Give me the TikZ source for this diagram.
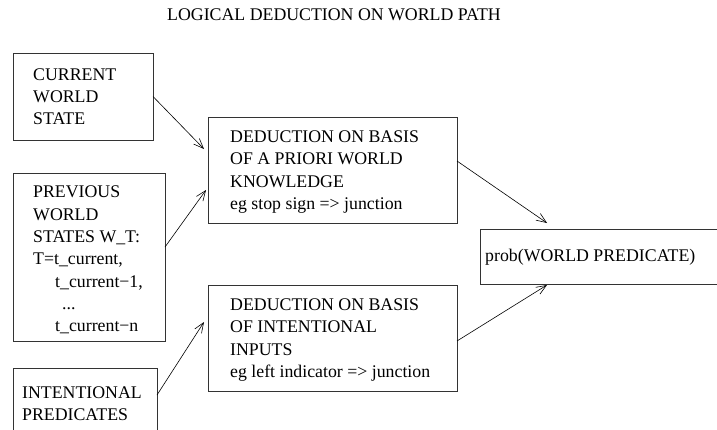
\documentclass[tikz,border=0pt]{standalone}
\usepackage{fontspec}
\setmainfont{Liberation Serif}
\usetikzlibrary{arrows.meta,calc}
\begin{document}
\begin{tikzpicture}[x=1pt,y=-1pt,
  box/.style={draw=black!80, line width=0.8pt, anchor=north west, inner sep=0pt, outer sep=0pt},
  txt/.style={anchor=west, align=left, inner sep=0pt, font=\fontsize{17.8}{22.3}\selectfont},
  arr/.style={draw=black, line width=0.6pt, -{Straight Barb[length=10pt,width=8pt]}}]
\useasboundingbox (0,0) rectangle (717,429);
\clip (0,0) rectangle (717,429);
\node[inner sep=0pt, font=\fontsize{17.8}{22.3}\selectfont] (title) at (334,15) {LOGICAL DEDUCTION ON WORLD PATH};
% boxes
\node[box, minimum width=140pt, minimum height=87pt] (b1) at (13,53) {};
\node[box, minimum width=152pt, minimum height=168pt] (b2) at (13,173) {};
\node[box, minimum width=144pt, minimum height=72pt] (b3) at (13,368) {};
\node[box, minimum width=249pt, minimum height=106pt] (d1) at (208,117) {};
\node[box, minimum width=249pt, minimum height=106pt] (d2) at (208,285) {};
\node[box, minimum width=250pt, minimum height=55pt] (p) at (480,229) {};
% texts
\node[txt] (t1) at ([xshift=20pt]b1.west) {CURRENT\\WORLD\\STATE};
\node[txt] (t2) at ([xshift=20pt,yshift=-3pt]b2.west) {PREVIOUS\\WORLD\\STATES W\_T:\\T=t\_current,\\\hspace*{22pt}t\_current−1,\\\hspace*{29pt}...\\\hspace*{22pt}t\_current−n};
\node[txt] (t3) at ([xshift=9pt]b3.west) {INTENTIONAL\\PREDICATES};
\node[txt] (td1) at ([xshift=22pt,yshift=-2pt]d1.west) {DEDUCTION ON BASIS\\OF A PRIORI WORLD\\KNOWLEDGE\\eg stop sign => junction};
\node[txt] (td2) at ([xshift=22pt,yshift=-2pt]d2.west) {DEDUCTION ON BASIS\\OF INTENTIONAL\\INPUTS\\eg left indicator => junction};
\node[txt] (tp) at ([xshift=5pt,yshift=-1pt]p.west) {prob(WORLD PREDICATE)};
% arrows
\draw[arr] (b1.east) -- ([xshift=-4pt,yshift=21pt]d1.west);
\draw[arr] ([yshift=10pt]b2.east) -- ([xshift=-2pt,yshift=-20pt]d1.west);
\draw[arr] ([yshift=-27pt]b3.north east) -- ([xshift=-4pt,yshift=16pt]d2.west);
\draw[arr] ([yshift=9pt]d1.east) -- ([xshift=67pt,yshift=6pt]p.north west);
\draw[arr] ([yshift=-3pt]d2.east) -- ([xshift=67pt,yshift=-1pt]p.south west);
\end{tikzpicture}
\end{document}
